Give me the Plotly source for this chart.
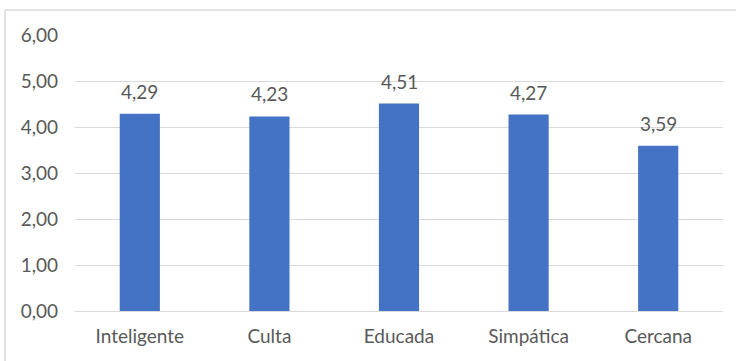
import plotly.graph_objects as go

categories = ["Inteligente", "Culta", "Educada", "Simpática", "Cercana"]
values = [4.29, 4.23, 4.51, 4.27, 3.59]

W, H = 736, 361
L, R, T, B = 75, 13, 35, 50
pw = W - L - R
ph = H - T - B
FONT = "Lato, Carlito, Calibri, sans-serif"
TXT = "#595959"

fig = go.Figure(
    go.Bar(
        x=categories,
        y=values,
        marker=dict(color="#4472C4", line=dict(width=0)),
        hoverinfo="x+y",
    )
)

# value labels above each bar
for c, v in zip(categories, values):
    fig.add_annotation(
        x=c, y=v, xref="x", yref="y",
        text=f"{v:.2f}".replace(".", ","),
        showarrow=False, yanchor="bottom", yshift=9,
        font=dict(color=TXT, size=19, family=FONT),
    )

# chart-area frame (left and top edges)
fx0 = (5 - L) / pw
fy_top = 1 + (T - 10) / ph
fy_bot = -(H - T - ph) / ph - 0.1
fig.add_shape(type="line", xref="paper", yref="paper", x0=fx0, x1=fx0, y0=fy_bot, y1=fy_top,
              line=dict(color="#D9D9D9", width=1.5))
fig.add_shape(type="line", xref="paper", yref="paper", x0=fx0, x1=1.1, y0=fy_top, y1=fy_top,
              line=dict(color="#D9D9D9", width=1.5))

fig.update_layout(
    width=W,
    height=H,
    margin=dict(l=L, r=R, t=T, b=B),
    paper_bgcolor="white",
    plot_bgcolor="white",
    separators=",.",
    bargap=0.69,
    showlegend=False,
    font=dict(family=FONT, color=TXT, size=19),
    xaxis=dict(
        showgrid=False,
        showline=False,
        ticks="",
        ticklabelstandoff=12,
        tickfont=dict(size=19, color=TXT, family=FONT),
    ),
    yaxis=dict(
        range=[0, 6],
        dtick=1,
        tickformat=".2f",
        showgrid=True,
        gridcolor="#D9D9D9",
        gridwidth=1,
        zeroline=True,
        zerolinecolor="#D9D9D9",
        zerolinewidth=1,
        showline=False,
        ticks="",
        ticklabelstandoff=16,
        tickfont=dict(size=19, color=TXT, family=FONT),
    ),
)

fig.write_html("out.html")
